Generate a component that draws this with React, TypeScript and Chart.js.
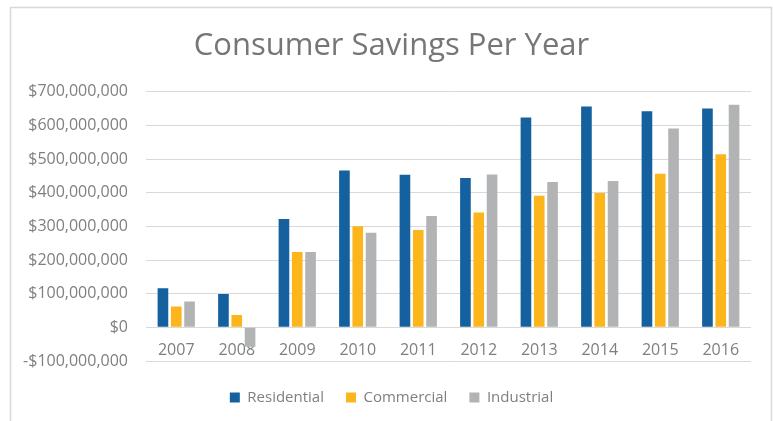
import React, { useEffect, useRef } from "react";
import { Chart, registerables } from "chart.js";

Chart.register(...registerables);

const years = ["2007", "2008", "2009", "2010", "2011", "2012", "2013", "2014", "2015", "2016"];
const residential = [116e6, 99e6, 322e6, 466e6, 453e6, 444e6, 623e6, 656e6, 642e6, 650e6];
const commercial = [62e6, 37e6, 224e6, 300e6, 289e6, 341e6, 391e6, 399e6, 456e6, 514e6];
const industrial = [77e6, -58e6, 224e6, 281e6, 331e6, 454e6, 432e6, 435e6, 591e6, 661e6];

const seriesNames = ["Residential", "Commercial", "Industrial"];
const seriesColors = ["#15609f", "#fcb51a", "#b2b3b5"];

const yMin = -100e6;
const yMax = 700e6;
const yStep = 100e6;

const FONT = "'Open Sans', sans-serif";
const TEXT = "#7f7f7f";
const GRID = "#d9d9d9";

function fmt(v: number): string {
  const abs = Math.abs(v).toLocaleString("en-US");
  return (v < 0 ? "-$" : "$") + abs;
}

const framePlugin = {
  id: "frame",
  beforeDraw(chart: any) {
    const ctx = chart.ctx;
    ctx.save();
    ctx.fillStyle = "#ffffff";
    ctx.fillRect(0, 0, chart.width, chart.height);
    ctx.strokeStyle = GRID;
    ctx.lineWidth = 1.5;
    ctx.beginPath();
    ctx.moveTo(10.5, chart.height + 5);
    ctx.lineTo(10.5, 7.5);
    ctx.lineTo(771.5, 7.5);
    ctx.lineTo(771.5, chart.height + 5);
    ctx.stroke();
    ctx.restore();
  },
};

export default function App() {
  const ref = useRef<HTMLCanvasElement | null>(null);

  useEffect(() => {
    if (!ref.current) return;
    const data = [residential, commercial, industrial];
    const chart = new Chart(ref.current, {
      type: "bar",
      data: {
        labels: years,
        datasets: seriesNames.map((name, i) => ({
          label: name,
          data: data[i],
          backgroundColor: seriesColors[i],
          borderWidth: 0,
          barPercentage: 0.8,
          categoryPercentage: 0.66,
        })),
      },
      options: {
        responsive: false,
        animation: false,
        layout: { padding: { left: 10, right: 0, top: 0, bottom: 6 } },
        plugins: {
          tooltip: { enabled: false },
          title: {
            display: true,
            text: "Consumer Savings Per Year",
            color: "#767676",
            font: { family: FONT, size: 31, weight: "normal", lineHeight: 1.2 },
            padding: { top: 28, bottom: 26.5 },
          },
          legend: {
            position: "bottom",
            title: { display: true, text: "", font: { size: 7, lineHeight: 1 }, padding: 0 },
            labels: {
              color: TEXT,
              font: { family: FONT, size: 15 },
              boxWidth: 10,
              boxHeight: 10,
              padding: 22,
            },
          },
        },
        scales: {
          x: {
            axis: "x",
            position: { y: 0 } as any,
            grid: { display: false, drawTicks: false },
            border: { display: false },
            ticks: { color: TEXT, font: { family: FONT, size: 16 }, padding: 13, maxRotation: 0 },
          },
          y: {
            min: yMin,
            max: yMax,
            grid: { color: GRID, lineWidth: 1, drawTicks: false },
            border: { display: false },
            ticks: {
              stepSize: yStep,
              color: TEXT,
              font: { family: FONT, size: 16 },
              padding: 18,
              callback: (v: any) => fmt(Number(v)),
            },
            afterFit: (s: any) => {
              s.width = 136;
            },
          },
          gapRight: {
            type: "linear",
            position: "right",
            display: true,
            grid: { display: false, drawTicks: false },
            border: { display: false },
            ticks: { display: false },
            afterFit: (s: any) => {
              s.width = 22;
            },
          },
        },
      },
      plugins: [framePlugin],
    });
    return () => chart.destroy();
  }, []);

  return (
    <div style={{ position: "absolute", left: 0, top: 0, width: 773, height: 421 }}>
      <canvas ref={ref} width={773} height={421} style={{ display: "block" }} />
    </div>
  );
}
